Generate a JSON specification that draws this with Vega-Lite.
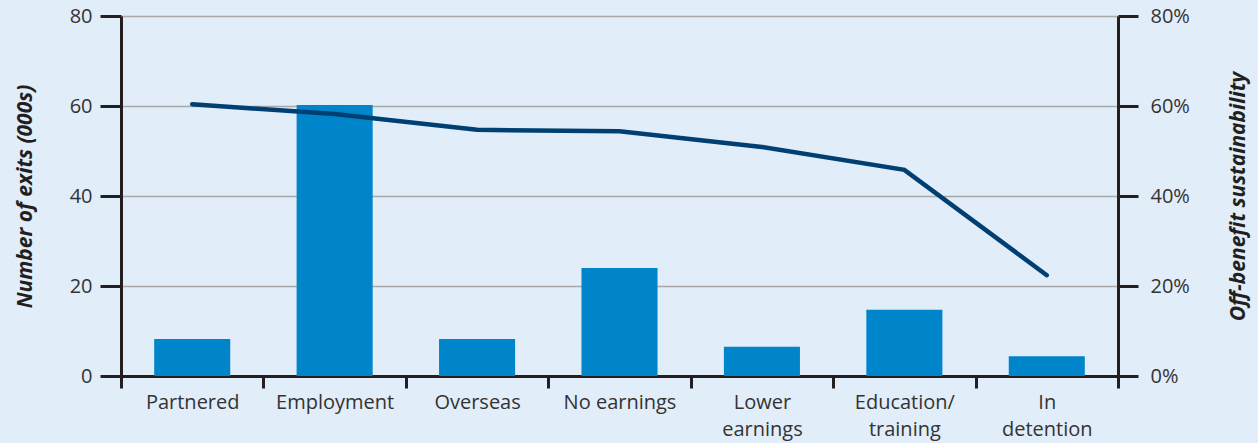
{
  "$schema": "https://vega.github.io/schema/vega-lite/v6.json",
  "width": 997,
  "height": 360,
  "autosize": {"type": "none"},
  "padding": {"left": 121, "top": 16, "right": 140, "bottom": 67},
  "background": "#e1edf9",
  "config": {
    "view": {"stroke": null},
    "font": "Open Sans",
    "axis": {
      "domainColor": "#231f20",
      "domainWidth": 3,
      "tickColor": "#231f20",
      "tickWidth": 3,
      "labelColor": "#333333",
      "labelFontSize": 20,
      "titleColor": "#231f20",
      "titleFontSize": 21,
      "titleFontWeight": "bold",
      "titleFontStyle": "italic",
      "gridColor": "#a9a9a9",
      "gridWidth": 1.5
    }
  },
  "data": {
    "values": [
      {"cat": "Partnered", "exits": 8.2, "sust": 0.604},
      {"cat": "Employment", "exits": 60.2, "sust": 0.582},
      {"cat": "Overseas", "exits": 8.2, "sust": 0.547},
      {"cat": "No earnings", "exits": 24.0, "sust": 0.544},
      {"cat": "Lower|earnings", "exits": 6.5, "sust": 0.509},
      {"cat": "Education/|training", "exits": 14.7, "sust": 0.458},
      {"cat": "In|detention", "exits": 4.4, "sust": 0.224}
    ]
  },
  "encoding": {
    "x": {
      "field": "cat",
      "type": "nominal",
      "sort": null,
      "scale": {"paddingInner": 0, "paddingOuter": 0},
      "axis": {
        "title": null,
        "labelAngle": 0,
        "tickBand": "extent",
        "tickSize": 12,
        "labelPadding": 4,
        "labelLineHeight": 27,
        "labelExpr": "split(datum.label, '|')",
        "grid": false
      }
    }
  },
  "layer": [
    {
      "mark": {"type": "bar", "width": {"band": 0.534}, "color": "#0085ca"},
      "encoding": {
        "y": {
          "field": "exits",
          "type": "quantitative",
          "scale": {"domain": [0, 80]},
          "axis": {
            "title": "Number of exits (000s)",
            "values": [0, 20, 40, 60, 80],
            "tickSize": 21,
            "labelPadding": 8,
            "titlePadding": 34,
            "grid": true
          }
        }
      }
    },
    {
      "mark": {"type": "line", "color": "#003f72", "strokeWidth": 4.5, "strokeCap": "round"},
      "encoding": {
        "y": {
          "field": "sust",
          "type": "quantitative",
          "scale": {"domain": [0, 0.8]},
          "axis": {
            "orient": "right",
            "title": "Off-benefit sustainability",
            "titleAngle": 270,
            "titleBaseline": "top",
            "values": [0, 0.2, 0.4, 0.6, 0.8],
            "format": ".0%",
            "tickSize": 20,
            "labelPadding": 12,
            "titlePadding": 38,
            "grid": false
          }
        }
      }
    }
  ],
  "resolve": {"scale": {"y": "independent"}}
}
